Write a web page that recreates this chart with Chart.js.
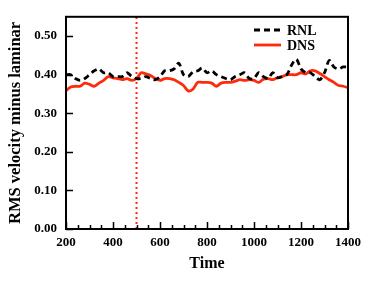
<!DOCTYPE html>
<html>
<head>
<meta charset="utf-8">
<script src="https://cdn.jsdelivr.net/npm/chart.js@4"></script>
<style>
  html, body { margin: 0; padding: 0; background: #fff; }
  #wrap { width: 374px; height: 284px; }
</style>
</head>
<body>
<div id="wrap"><canvas id="myChart" width="374" height="284"></canvas></div>
<script>
'use strict'

var times = [200,220,240,260,280,300,320,340,360,380,400,420,440,460,480,500,520,540,560,580,
  600,620,640,660,680,700,720,740,760,780,800,820,840,860,880,900,920,940,960,980,
  1000,1020,1040,1060,1080,1100,1120,1140,1160,1180,1200,1220,1240,1260,1280,1300,1320,1340,1360,1380,1400];

var rnl = [0.400,0.400,0.390,0.385,0.390,0.400,0.410,0.415,0.405,0.405,0.395,0.395,0.395,0.405,0.395,0.390,0.390,0.395,0.390,0.387,
  0.395,0.410,0.410,0.415,0.430,0.400,0.395,0.407,0.410,0.417,0.405,0.410,0.400,0.395,0.390,0.387,0.395,0.400,0.405,0.390,
  0.390,0.405,0.395,0.390,0.405,0.392,0.395,0.400,0.425,0.440,0.415,0.405,0.405,0.395,0.387,0.405,0.437,0.420,0.415,0.420,0.420];

var dns = [0.358,0.368,0.370,0.370,0.378,0.375,0.370,0.378,0.385,0.395,0.392,0.390,0.387,0.390,0.385,0.390,0.405,0.402,0.398,0.390,
  0.385,0.390,0.390,0.387,0.380,0.372,0.358,0.362,0.380,0.380,0.380,0.378,0.370,0.378,0.380,0.380,0.383,0.387,0.385,0.387,
  0.385,0.380,0.388,0.390,0.387,0.392,0.395,0.400,0.400,0.400,0.405,0.402,0.410,0.410,0.403,0.395,0.387,0.380,0.372,0.370,0.366];

var markTime = 500;
var xTicks = [200,400,600,800,1000,1200,1400];
var yTicks = [0.00,0.10,0.20,0.30,0.40,0.50];

var serif = "'Liberation Serif', 'Times New Roman', serif";

function pts(xs, ys) {
  return xs.map(function(x, i) { return {x: x, y: ys[i]}; });
}

// frame, inward ticks and the legend inside the plot
var framePlugin = {
  id: 'frame',
  afterDraw: function(chart) {
    var ctx = chart.ctx;
    var a = chart.chartArea;
    var xs = chart.scales.x, ys = chart.scales.y;
    ctx.save();
    ctx.strokeStyle = '#000';
    ctx.lineWidth = 2;
    ctx.strokeRect(a.left, a.top, a.right - a.left, a.bottom - a.top);

    ctx.lineWidth = 1.5;
    ctx.beginPath();
    for (var t = 200; t <= 1400; t += 50) {
      var px = Math.round(xs.getPixelForValue(t)) + 0.5;
      var len = (t % 200 === 0) ? 7 : 4;
      ctx.moveTo(px, a.bottom);
      ctx.lineTo(px, a.bottom - len);
    }
    yTicks.forEach(function(v) {
      var py = Math.round(ys.getPixelForValue(v)) + 0.5;
      ctx.moveTo(a.left, py);
      ctx.lineTo(a.left + 7, py);
    });
    ctx.stroke();

    // legend
    var items = chart.data.datasets.filter(function(d) { return d.label; });
    ctx.font = 'bold 14px ' + serif;
    ctx.textBaseline = 'middle';
    items.forEach(function(d, i) {
      var y = 30 + i * 15;
      ctx.beginPath();
      ctx.strokeStyle = d.borderColor;
      ctx.lineWidth = d.borderWidth;
      ctx.setLineDash(d.borderDash || []);
      ctx.moveTo(254, y);
      ctx.lineTo(281, y);
      ctx.stroke();
      ctx.setLineDash([]);
      ctx.fillStyle = '#000';
      ctx.fillText(d.label, 287, y + 1);
    });
    ctx.restore();
  }
};

var ctx = document.getElementById("myChart");

var chart = new Chart(ctx, {
  type: 'line',
  data: {
    datasets: [{
      label: "RNL",
      data: pts(times, rnl),
      borderColor: '#000',
      borderWidth: 2.8,
      borderDash: [6, 4],
      pointRadius: 0,
      tension: 0.3,
      fill: false
    },
    {
      label: "DNS",
      data: pts(times, dns),
      borderColor: '#ff2a0a',
      borderWidth: 2.8,
      pointRadius: 0,
      tension: 0.3,
      fill: false
    },
    {
      label: "",
      data: [{x: markTime, y: 0}, {x: markTime, y: 0.55}],
      borderColor: '#ff2a0a',
      borderWidth: 2,
      borderDash: [2, 3],
      pointRadius: 0,
      fill: false
    }]
  },
  options: {
    responsive: false,
    animation: false,
    layout: { padding: { left: 0, top: 10, right: 26, bottom: 0 } },
    plugins: { legend: { display: false }, tooltip: { enabled: false } },
    scales: {
      x: {
        type: 'linear',
        min: 200,
        max: 1400,
        afterFit: function(s) { s.height = 55; },
        afterBuildTicks: function(s) { s.ticks = xTicks.map(function(v) { return {value: v}; }); },
        grid: { display: false, drawTicks: false },
        border: { display: false },
        ticks: {
          color: '#000', padding: 6,
          font: { family: serif, size: 13, weight: 'bold' },
          callback: function(v) { return String(v); }
        },
        title: { display: true, text: 'Time', color: '#000', padding: { top: 2, bottom: 11 }, font: { family: serif, size: 16, weight: 'bold' } }
      },
      y: {
        min: 0,
        max: 0.55,
        afterFit: function(s) { s.width = 66; },
        afterBuildTicks: function(s) { s.ticks = yTicks.map(function(v) { return {value: v}; }); },
        grid: { display: false, drawTicks: false },
        border: { display: false },
        ticks: {
          color: '#000', padding: 9,
          font: { family: serif, size: 13, weight: 'bold' },
          callback: function(v) { return Number(v).toFixed(2); }
        },
        title: { display: true, text: 'RMS velocity minus laminar', color: '#000', padding: { top: 6, bottom: 0 }, font: { family: serif, size: 16.5, weight: 'bold' } }
      }
    }
  },
  plugins: [framePlugin]
});
</script>
</body>
</html>
